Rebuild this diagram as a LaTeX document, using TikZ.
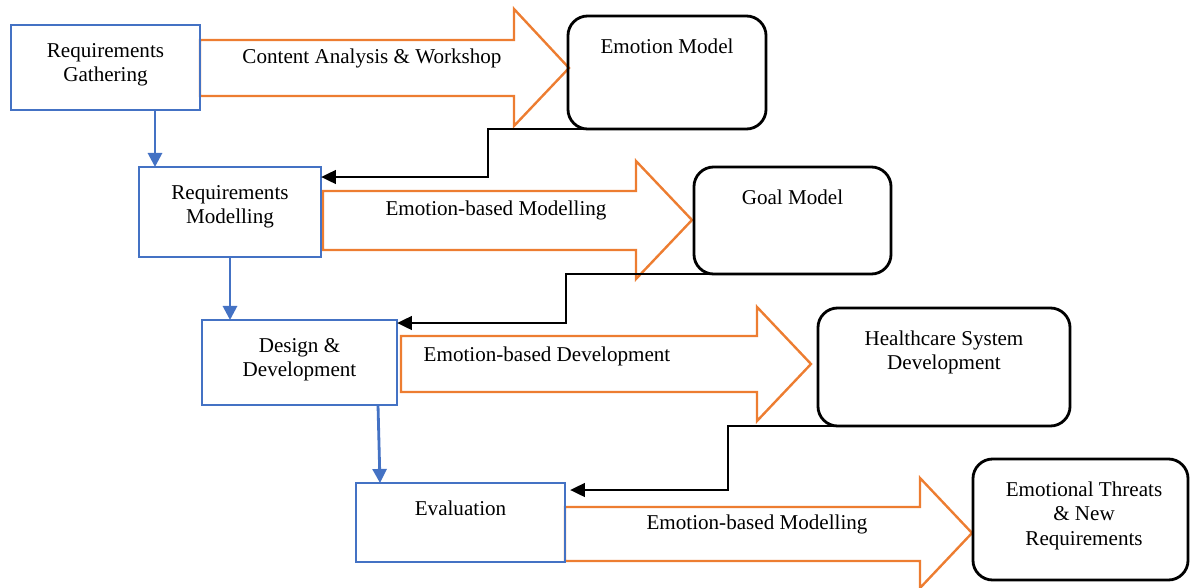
\documentclass[tikz,border=0pt]{standalone}
\usepackage{fontspec}
\setmainfont{Liberation Serif}
\usepackage{tikz}
\usetikzlibrary{calc}
\usetikzlibrary{arrows.meta}
\usetikzlibrary{backgrounds}

\definecolor{stageblue}{HTML}{4472C4}
\definecolor{floworange}{HTML}{ED7D31}

\begin{document}
\begin{tikzpicture}[x=0.025cm, y=-0.025cm, font=\fontsize{15}{17.4}\selectfont,
        stagenode/.style={rectangle, draw=stageblue, line width=2pt, outer sep=0pt},
        resultnode/.style={rectangle, rounded corners=14pt, draw=black, line width=2pt, outer sep=0pt},
        stagetext/.style={anchor=north, align=center, inner sep=0pt, yshift=-12.8pt},
        resulttext/.style={anchor=north, align=center, inner sep=0pt, yshift=-16pt},
        bigarrow/.style={draw=floworange, line width=1.7pt, fill=white, line join=miter},
        stagearrow/.style={draw=stageblue, line width=2pt, -{Triangle[width=10pt, length=10pt]}},
        backarrow/.style={draw=black, line width=2pt, -{Triangle[width=9.5pt, length=10.5pt]}}]
        \useasboundingbox (0,0) rectangle (1190,587);

        % process stages
        \node[stagenode, minimum width=4.725cm, minimum height=2.125cm, label={[stagetext]north:Requirements\\Gathering}] (stage1) at (105.5,67.5) {};
        \node[stagenode, minimum width=4.55cm, minimum height=2.25cm, label={[stagetext]north:Requirements\\Modelling}] (stage2) at (230,212) {};
        \node[stagenode, minimum width=4.875cm, minimum height=2.125cm, label={[stagetext]north:Design \&\\Development}] (stage3) at (299.5,362.5) {};
        \node[stagenode, minimum width=5.225cm, minimum height=1.975cm, label={[stagetext]north:Evaluation}] (stage4) at (460.5,522.5) {};

        % results
        \node[resultnode, minimum width=4.95cm, minimum height=2.825cm, label={[resulttext]north:Emotion Model}] (result1) at (667,72.5) {};
        \node[resultnode, minimum width=4.925cm, minimum height=2.675cm, label={[resulttext]north:Goal Model}] (result2) at (792.5,220.5) {};
        \node[resultnode, minimum width=6.3cm, minimum height=2.95cm, label={[resulttext]north:Healthcare System\\Development}] (result3) at (944,367) {};
        \node[resultnode, minimum width=5.375cm, minimum height=3.025cm, label={[resulttext, xshift=2.5pt]north:Emotional Threats\\\& New\\Requirements}] (result4) at (1080.5,519.5) {};

        % big arrows
        \begin{scope}[on background layer]
        \draw[bigarrow] (200,40) -- (514,40) -- (514,9) -- (569,68) -- (514,126) -- (514,96) -- (200,96) -- cycle;
        \draw[bigarrow] (323,191) -- (636,191) -- (636,161) -- (692,220) -- (636,279) -- (636,250) -- (323,250) -- cycle;
        \draw[bigarrow] (401,336) -- (757,336) -- (757,307) -- (811,364) -- (757,421) -- (757,392) -- (401,392) -- cycle;
        \draw[bigarrow] (565,507) -- (920,507) -- (920,478) -- (972,533) -- (920,588) -- (920,561) -- (565,561) -- cycle;
        \end{scope}
        \node (flow1) at (372,58) {Content Analysis \& Workshop};
        \node (flow2) at (496,210) {Emotion-based Modelling};
        \node (flow3) at (547,356) {Emotion-based Development};
        \node (flow4) at (757,524) {Emotion-based Modelling};

        % stage to stage
        \draw[stagearrow] ($(stage1.south)+(49.5,0)$) -- ($(stage1.south |- stage2.north)+(49.5,0)$);
        \draw[stagearrow] (stage2.south) -- (stage2.south |- stage3.north);
        \draw[stagearrow] ($(stage3.south)+(78.5,0)$) -- ($(stage4.north)+(-80.5,0)$);

        % results back to stages
        \draw[backarrow] ($(result1.south)+(-7,0)$) -| (488,177) -- ($(stage2.east)+(0,-35)$);
        \draw[backarrow] ($(result2.south)+(-52.5,0)$) -| (566,323) -- ($(stage3.east)+(0,-39.5)$);
        \draw[backarrow] ($(result3.south)+(-54,0)$) -| (728,490) -- ($(stage4.east)+(5,-32.5)$);
\end{tikzpicture}
\end{document}
